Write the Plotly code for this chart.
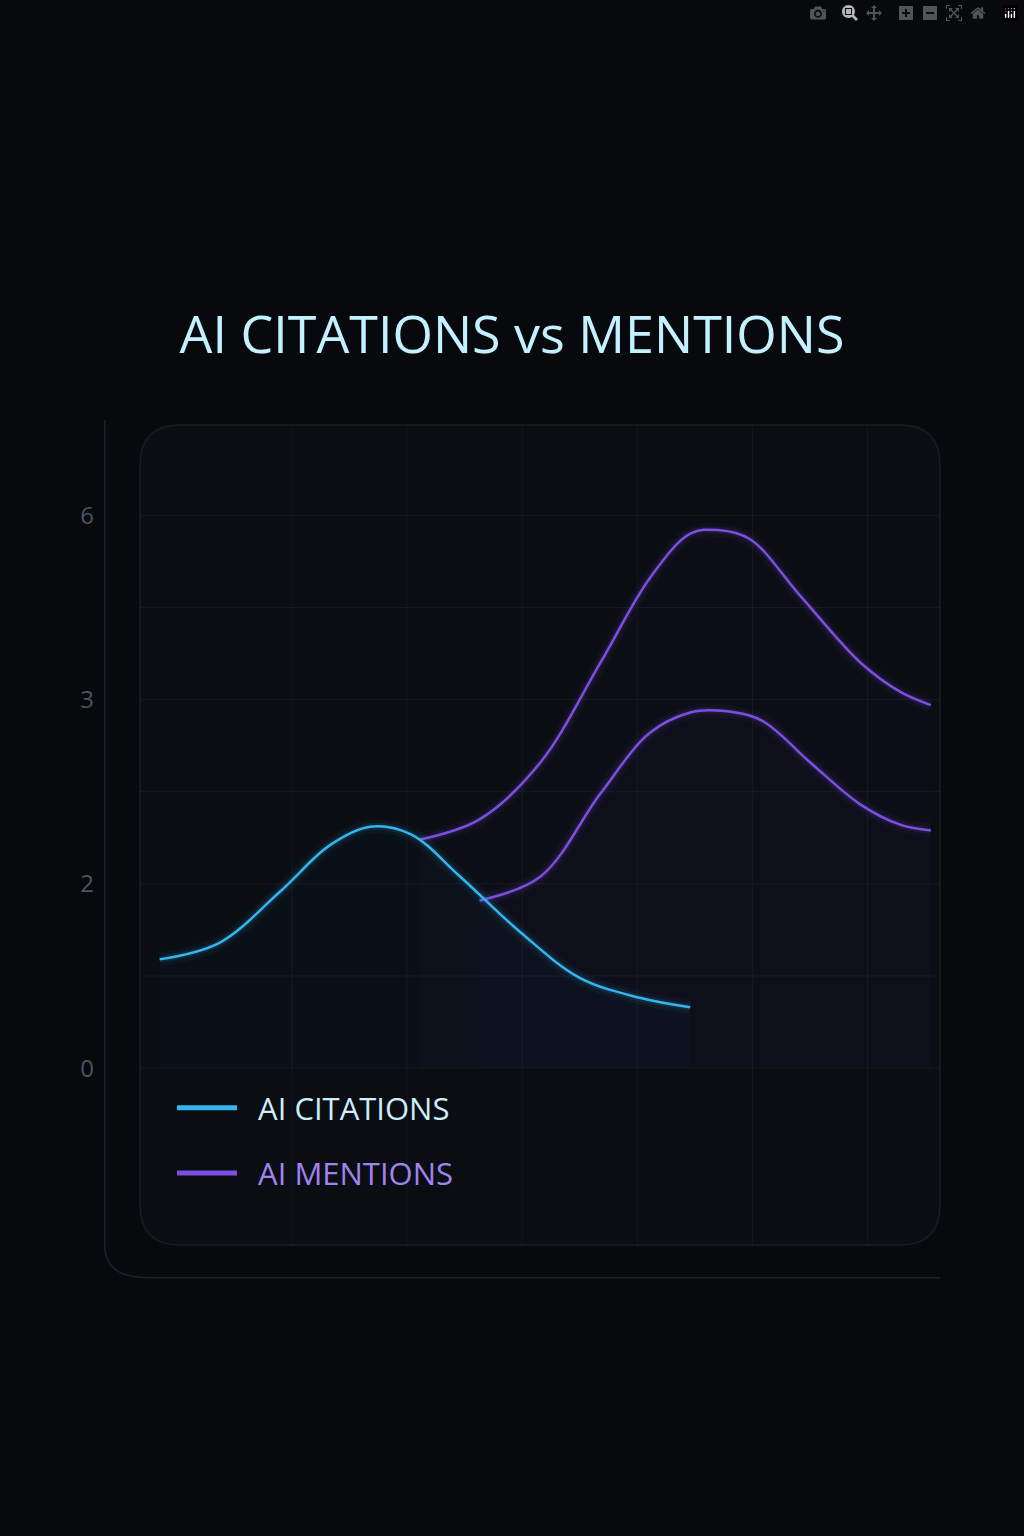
import plotly.graph_objects as go

# tick positions (axis units) and labels
y_tickvals = [0, 1, 2, 3]
y_ticktext = ["0", "2", "3", "6"]
grid_y = [0, 0.5, 1, 1.5, 2, 2.5, 3]
grid_x = [1, 2, 3, 4, 5, 6]

# AI Citations (blue)
cit_x = [-0.15, 0.37, 0.9, 1.33, 1.68, 2.03, 2.46, 2.98, 3.5, 4.03, 4.46]
cit_y = [0.59, 0.68, 0.96, 1.21, 1.31, 1.27, 1.04, 0.74, 0.49, 0.38, 0.33]
# AI Mentions (upper purple)
men_x = [2.11, 2.63, 3.16, 3.68, 4.11, 4.46, 4.70, 4.98, 5.42, 5.94, 6.29, 6.55]
men_y = [1.24, 1.35, 1.66, 2.20, 2.66, 2.90, 2.92, 2.87, 2.56, 2.20, 2.04, 1.97]
# second purple curve
men2_x = [2.63, 3.16, 3.68, 4.11, 4.46, 4.70, 5.07, 5.5, 5.94, 6.29, 6.55]
men2_y = [0.91, 1.04, 1.49, 1.82, 1.93, 1.94, 1.89, 1.66, 1.43, 1.32, 1.29]

BLUE = "#33b5f0"
PURPLE = "#7b4fe0"

fig = go.Figure()

def curve(x, y, color, rgba):
    fig.add_trace(go.Scatter(x=x, y=y, mode="lines", line=dict(width=0, shape="spline"),
                             fill="tozeroy", fillcolor=rgba.format(0.025),
                             showlegend=False, hoverinfo="skip"))
    for w, a in [(14, 0.05), (7, 0.1)]:
        fig.add_trace(go.Scatter(x=x, y=y, mode="lines",
                                 line=dict(color=rgba.format(a), width=w, shape="spline"),
                                 showlegend=False, hoverinfo="skip"))
    fig.add_trace(go.Scatter(x=x, y=y, mode="lines", showlegend=False, hoverinfo="skip",
                             line=dict(color=color, width=2.5, shape="spline")))

curve(men_x, men_y, PURPLE, "rgba(123,79,224,{})")
curve(men2_x, men2_y, PURPLE, "rgba(123,79,224,{})")
curve(cit_x, cit_y, BLUE, "rgba(51,181,240,{})")

fig.add_trace(go.Scatter(x=[None], y=[None], mode="lines", line=dict(color=BLUE, width=5),
                         legendgroup="a",
                         name="<span style='color:#cdeefa'>  AI CITATIONS</span>"))
fig.add_trace(go.Scatter(x=[None], y=[None], mode="lines", line=dict(color=PURPLE, width=5),
                         legendgroup="b",
                         name="<span style='color:#a183f0'>  AI MENTIONS</span>"))

shapes = []
for gy in grid_y:
    shapes.append(dict(type="line", xref="paper", x0=0, x1=1, yref="y", y0=gy, y1=gy,
                       line=dict(color="rgba(120,140,170,0.12)", width=1), layer="below"))
for gx in grid_x:
    shapes.append(dict(type="line", yref="paper", y0=0, y1=1, xref="x", x0=gx, x1=gx,
                       line=dict(color="rgba(120,140,170,0.10)", width=1), layer="below"))
r = 0.05
k = 800 / 820
shapes.append(dict(type="path", xref="paper", yref="paper", layer="below",
                   path=f"M {r} 0 L {1-r} 0 Q 1 0 1 {r*k} L 1 {1-r*k} Q 1 1 {1-r} 1 "
                        f"L {r} 1 Q 0 1 0 {1-r*k} L 0 {r*k} Q 0 0 {r} 0 Z",
                   fillcolor="rgba(20,26,34,0.25)", line=dict(color="rgba(120,140,170,0.14)", width=1.5)))
shapes.append(dict(type="path", xref="paper", yref="paper", layer="below",
                   path="M -0.044 1.006 L -0.044 0.0 Q -0.044 -0.04 0.01 -0.04 L 1.0 -0.04",
                   line=dict(color="rgba(120,140,170,0.2)", width=1.5)))

fig.update_layout(
    width=1024, height=1536,
    paper_bgcolor="#07090d", plot_bgcolor="rgba(0,0,0,0)",
    margin=dict(l=140, r=84, t=425, b=291),
    title=dict(text="AI CITATIONS vs MENTIONS", x=0.5, xanchor="center", y=0.782, yanchor="middle",
               font=dict(family="Open Sans", size=52, color="#c4f1ff")),
    xaxis=dict(range=[-0.32, 6.63], showgrid=False, zeroline=False, showticklabels=False),
    yaxis=dict(range=[-0.96, 3.49], tickvals=y_tickvals, ticktext=y_ticktext, showgrid=False,
               zeroline=False, ticklabelstandoff=45,
               tickfont=dict(family="Open Sans", size=24, color="#4a5463")),
    legend=dict(x=0.04, y=0.2, xanchor="left", yanchor="top", bgcolor="rgba(0,0,0,0)",
                font=dict(family="Open Sans", size=31), tracegroupgap=22, itemwidth=60),
    shapes=shapes, showlegend=True,
)
fig.write_html("out.html", post_script="document.body.style.margin='0';document.body.style.background='#07090d';")
